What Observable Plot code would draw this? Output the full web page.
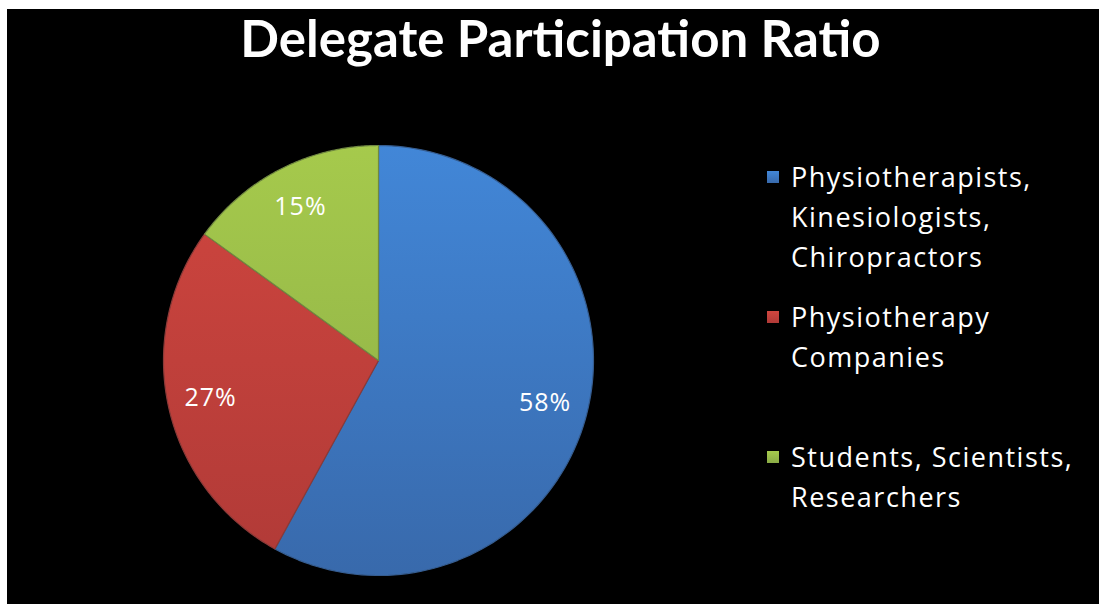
<!DOCTYPE html>
<html>
<head>
<meta charset="utf-8">
<script src="https://cdn.jsdelivr.net/npm/d3@7"></script>
<script src="https://cdn.jsdelivr.net/npm/@observablehq/plot@0.6"></script>
<style>
  html, body { margin: 0; padding: 0; background: #ffffff; width: 1099px; height: 604px; overflow: hidden; }
  #frame { position: absolute; left: 7px; top: 9px; width: 1092px; height: 595px; background: #000; }
  #title { position: absolute; left: 0; top: 6px; width: 1099px; text-align: center; color: #fff;
           font-family: Lato, sans-serif; font-weight: 700; font-size: 51px; line-height: 64px; padding-left: 22px; box-sizing: border-box; }
  #chart { position: absolute; left: 158px; top: 140px; }
  #legend { position: absolute; left: 765px; top: 157px; color: #fff; font-family: "Open Sans", sans-serif; font-size: 27px; letter-spacing: 1.5px; }
  .item { position: absolute; left: 0; white-space: nowrap; }
  .sw { position: absolute; left: 2px; width: 12px; height: 12px; }
  .lbl { position: absolute; left: 26px; line-height: 40px; }
</style>
</head>
<body>
<div id="frame"></div>
<div id="title">Delegate Participation Ratio</div>
<div id="chart"></div>
<div id="legend"></div>
<script>
const categories = ["Physiotherapists, Kinesiologists, Chiropractors", "Physiotherapy Companies", "Students, Scientists, Researchers"];
const legendLines = [["Physiotherapists,", "Kinesiologists,", "Chiropractors"], ["Physiotherapy", "Companies"], ["Students, Scientists,", "Researchers"]];
const values = [58, 27, 15];
const labels = ["58%", "27%", "15%"];
const colors = ["#4a80c6", "#c0504d", "#9bbb59"];
const gradTop = ["#4287d8", "#d0463f", "#a6ca4c"];
const gradBottom = ["#3869ab", "#b03a37", "#8aab46"];
const gradIds = ["gBlue", "gRed", "gGreen"];

const pie = d3.pie().sort(null).value(d => d)(values);
const sliceData = pie.map((p, i) => {
  const pts = [{x: 0, y: 0}];
  const n = 120;
  for (let k = 0; k <= n; k++) {
    const a = p.startAngle + (p.endAngle - p.startAngle) * k / n;
    pts.push({x: Math.sin(a), y: Math.cos(a)});
  }
  return pts;
});
const labelPts = pie.map((p, i) => {
  const a = (p.startAngle + p.endAngle) / 2;
  return {label: labels[i], x: 0.8 * Math.sin(a), y: 0.8 * Math.cos(a)};
});

const R = 220 / 215;
const plot = Plot.plot({
  width: 440, height: 440, margin: 0,
  style: {background: "transparent", overflow: "visible"},
  x: {domain: [-R, R], axis: null},
  y: {domain: [-R, R], axis: null},
  marks: [
    ...sliceData.map((pts, i) => Plot.line(pts, {x: "x", y: "y", fill: `url(#${gradIds[i]})`,
      stroke: d3.color(colors[i]).darker(0.9).formatHex(), strokeWidth: 1.2, curve: "linear-closed"})),
    Plot.text(labelPts, {x: "x", y: "y", text: "label", fill: "#fff", fontSize: 25, fontFamily: "'Open Sans', sans-serif"})
  ]
});
// gradients for the beveled look
const defs = d3.select(plot).insert("defs", ":first-child");
gradIds.forEach((id, i) => {
  const g = defs.append("linearGradient").attr("id", id)
    .attr("gradientUnits", "userSpaceOnUse").attr("x1", 0).attr("y1", 0).attr("x2", 0).attr("y2", 440);
  g.append("stop").attr("offset", "0%").attr("stop-color", gradTop[i]);
  g.append("stop").attr("offset", "100%").attr("stop-color", gradBottom[i]);
});
d3.select(plot).selectAll("text").style("letter-spacing", "1px");
document.getElementById("chart").appendChild(plot);

const legendTops = [0, 140, 280];
const legend = document.getElementById("legend");
legendLines.forEach((lines, i) => {
  const item = document.createElement("div");
  item.className = "item";
  item.style.top = legendTops[i] + "px";
  const sw = document.createElement("div");
  sw.className = "sw";
  sw.style.top = "14px";
  sw.style.background = `linear-gradient(${gradTop[i]}, ${gradBottom[i]})`;
  const lbl = document.createElement("div");
  lbl.className = "lbl";
  lbl.innerHTML = lines.join("<br>");
  item.appendChild(sw);
  item.appendChild(lbl);
  legend.appendChild(item);
});
</script>
</body>
</html>
